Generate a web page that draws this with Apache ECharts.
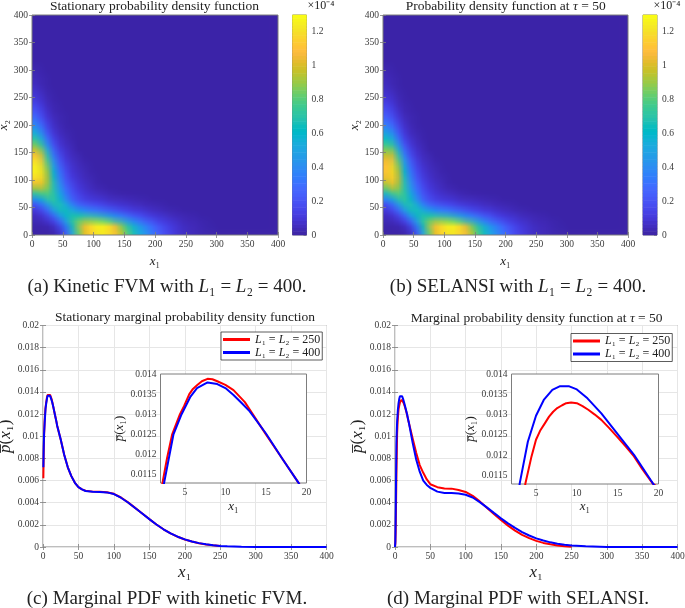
<!DOCTYPE html>
<html><head><meta charset="utf-8">
<style>
html,body{margin:0;padding:0;background:#fff;width:685px;height:608px;overflow:hidden}
#main{position:absolute;left:0;top:0;width:685px;height:608px;z-index:2}
.hm{position:absolute;width:40px;height:40px;transform-origin:0 0;z-index:1}
</style>
<script src="https://cdn.jsdelivr.net/npm/echarts@6/dist/echarts.min.js"></script>
</head><body>
<div id="hmA" class="hm" style="left:32px;top:15px;transform:scale(6.15,5.5)"></div>
<div id="hmB" class="hm" style="left:383px;top:15px;transform:scale(6.125,5.5)"></div>
<div id="main"></div>
<script>
// MATLAB parula colormap
const parula=[[.2422,.1504,.6603],[.2504,.165,.7076],[.2578,.1818,.7511],[.2647,.1978,.7952],[.2706,.2147,.8364],[.2751,.2342,.871],[.2783,.2559,.8991],[.2803,.2782,.9221],[.2813,.3006,.9414],[.281,.3228,.9579],[.2795,.3447,.9717],[.276,.3667,.9829],[.2699,.3892,.9906],[.2602,.4123,.9952],[.244,.4358,.9988],[.2206,.4603,.9973],[.1963,.4847,.9892],[.1834,.5074,.9798],[.1786,.5289,.9682],[.1764,.5499,.952],[.1687,.5703,.9359],[.154,.5902,.9218],[.146,.6091,.9079],[.138,.6276,.8973],[.1248,.6459,.8883],[.1113,.6635,.8763],[.0952,.6798,.8598],[.0689,.6948,.8394],[.0297,.7082,.8163],[.0036,.7203,.7917],[.0067,.7312,.766],[.0433,.7411,.7394],[.0964,.75,.712],[.1408,.7584,.6842],[.1717,.767,.6554],[.1938,.7758,.6251],[.2161,.7843,.5923],[.247,.7918,.5567],[.2906,.7973,.5188],[.3406,.8008,.4789],[.3909,.8029,.4354],[.4456,.8024,.3909],[.5044,.7993,.348],[.5616,.7942,.3045],[.6174,.7876,.2612],[.672,.7793,.2227],[.7242,.7698,.191],[.7738,.7598,.1646],[.8203,.7498,.1535],[.8634,.7406,.1596],[.9035,.733,.1774],[.9393,.7288,.21],[.9728,.7298,.2394],[.9956,.7434,.2371],[.997,.7659,.2199],[.9952,.7893,.2028],[.9892,.8136,.1885],[.9786,.8386,.1766],[.9676,.8639,.1643],[.961,.889,.1537],[.9597,.9135,.1423],[.9628,.9373,.1265],[.9691,.9606,.1064],[.9769,.9839,.0805]]
  .map(c=>`rgb(${c.map(v=>Math.round(v*255)).join(',')})`);

// Densities in units of 1e-6; rows y = 5,15,25,… (bottom up), columns x = 5,15,25,… Unlisted cells read as 0.
const densityA=[
[0,0,0,1,5,18,46,78,100,113,122,125,122,112,98,82,68,54,43,33,25,18,13,9,6,4,3,2,1,1],
[1,1,2,5,14,33,60,86,105,118,126,128,123,108,88,70,56,44,35,27,20,15,11,8,5,4,3,2,1,1],
[3,4,7,14,28,48,70,80,84,84,82,78,70,58,48,40,32,26,20,16,12,9,7,5,3,2,2,1,1],
[5,8,15,30,50,62,66,62,55,50,46,40,35,30,26,21,17,14,11,8,6,5,3,2,2,1,1],
[10,16,28,50,66,66,50,38,32,28,25,21,18,15,12,10,8,7,5,4,3,2,1,1],
[22,32,48,68,68,52,33,22,18,15,13,11,9,7,6,5,4,3,2,2,1,1],
[46,58,72,76,58,38,22,15,11,8,7,6,4,3,3,2,2,1,1],
[76,83,84,72,52,33,20,13,9,6,4,3,2,1],
[96,102,92,70,45,27,16,10,6,4,2,1],
[112,115,96,68,40,23,13,8,5,3,1],
[124,122,97,63,35,19,10,6,3,2,1],
[128,123,93,58,30,16,8,5,3,1],
[126,118,86,50,25,13,7,4,2,1],
[120,112,78,42,20,10,5,3,1],
[108,102,70,32,15,8,4,2],
[96,84,52,24,11,6,3],
[82,68,38,17,8,4,2],
[68,52,28,12,6,3,1],
[54,40,20,9,4,2,1],
[42,30,15,6,3,1],
[33,23,11,5,2,1],
[26,17,8,3,2,1],
[20,13,6,2,1],
[15,10,4,2,1],
[11,7,3,1],
[8,5,2,1],
[6,3,1],
[4,2,1],
[3,2,1],
[2,1],
[1,1]];
const densityB=[
[0,0,0,1,4,16,44,78,102,115,122,124,120,110,96,80,66,52,41,32,24,17,12,9,6,4,3,2,1,1],
[1,1,2,5,13,32,60,88,107,119,126,127,121,106,86,68,54,42,33,26,19,14,10,7,5,4,3,2,1,1],
[3,4,7,13,27,47,71,81,85,85,83,78,69,57,47,39,31,25,19,15,11,9,6,5,3,2,2,1,1],
[5,8,15,29,50,63,67,63,56,51,47,41,36,31,26,21,17,14,10,8,6,5,3,2,2,1,1],
[10,16,28,49,66,67,51,39,33,29,26,22,18,15,12,10,8,7,5,4,3,2,1,1],
[19,30,47,67,69,53,34,23,18,15,13,11,9,7,6,5,4,3,2,2,1,1],
[40,55,71,77,60,39,23,15,11,8,7,6,4,3,3,2,2,1,1],
[66,80,85,74,53,34,21,13,9,6,4,3,2,1],
[85,100,94,72,46,28,17,10,6,4,2,1],
[98,113,99,70,42,24,14,8,5,3,1],
[106,119,101,66,37,20,11,6,3,2,1],
[110,120,97,61,32,17,9,5,3,1],
[109,116,90,53,27,14,7,4,2,1],
[103,109,81,45,22,11,5,3,1],
[93,99,72,35,16,8,4,2],
[83,83,55,26,12,6,3],
[71,67,40,19,9,4,2],
[59,52,30,13,6,3,1],
[47,40,22,10,4,2,1],
[37,30,16,7,3,1],
[29,23,12,5,2,1],
[23,17,9,3,2,1],
[18,13,6,2,1],
[14,10,4,2,1],
[10,7,3,1],
[7,5,2,1],
[5,3,1],
[4,2,1],
[3,2,1],
[2,1],
[1,1]];

// Marginal PDFs
const xC250=[.5,1,1.5,2.25,2.8,3.44,4.4,4.9,5.55,6,6.5,7.1,7.8,8.4,9,10,11,12.4,15,17,19,20,25,30,35,40,45,50,55,60,70,80,90,100,110,120,130,140,150,160,170,180,190,200,210,220,230,240,250];
const yC250=[.0062,.0085,.01,.0113,.0119,.0125,.013,.0132,.0135,.01363,.01372,.01382,.01388,.01387,.01382,.01373,.0136,.0133,.0125,.0119,.0113,.01095,.0097,.0083,.0072,.0064,.0058,.0054,.0052,.00508,.005,.00499,.00495,.0048,.00447,.00403,.00353,.00303,.00252,.00203,.0016,.00123,.00092,.00068,.00049,.00034,.00023,.00015,.00009];
const xC400=[.5,1,1.5,2.45,3.6,4.6,5.7,6.5,7.8,9,10,11,12,13,15,17,19,20,25,30,35,40,45,50,55,60,70,80,90,100,110,120,130,140,150,160,170,180,190,200,210,220,230,240,250,260,280,300,350,400];
const yC400=[.0072,.009,.0102,.0113,.0125,.013,.01344,.01365,.01379,.01375,.01365,.01348,.01328,.01307,.01252,.0119,.0113,.01095,.0097,.0083,.0072,.0064,.0058,.0054,.0052,.00506,.00498,.00497,.00493,.00478,.00445,.00402,.00352,.00302,.00252,.00203,.0016,.00123,.00093,.00069,.0005,.00035,.00024,.00016,.0001,.00007,.00003,.00001,0,0];
const xD250=[0,.5,1,2,3,3.7,4.45,5,5.5,6.1,6.6,7.1,7.6,8.2,8.7,9.3,10,10.7,11.4,12.2,13,14,15,16,17,18,19.3,20,25,30,35,40,45,50,60,70,80,90,100,110,120,130,140,150,160,170,180,190,200,210,220,230,240,250];
const yD250=[0,.0003,.0015,.0065,.0102,.0113,.01197,.01238,.0126,.01279,.01295,.01307,.01316,.01323,.01328,.0133,.01328,.01321,.01312,.013,.01287,.01266,.01244,.01221,.01197,.01166,.0113,.0112,.0098,.0085,.0074,.0067,.0061,.00567,.0054,.00528,.00527,.00515,.00497,.00462,.00412,.00355,.00298,.00243,.00193,.00148,.0011,.0008,.00055,.00037,.00024,.00014,.00007,.00003];
const xD400=[0,.5,1,2,3,4,5,5.95,7,7.95,9,10,11.3,13,15,17,19,20,25,30,35,40,45,50,60,70,80,90,100,110,120,130,140,150,160,170,180,190,200,210,220,230,240,250,270,300,350,400];
const yD400=[0,.0005,.003,.0094,.0113,.01233,.01297,.01336,.01361,.0137,.0137,.01362,.0134,.01303,.01252,.01201,.0114,.0111,.0094,.0079,.0068,.006,.0056,.00534,.005,.00488,.00487,.00483,.00472,.00447,.00405,.00358,.00308,.00259,.00213,.00172,.00135,.00104,.00078,.00058,.00042,.0003,.0002,.00014,.00006,.00001,0,0];

// Tick labels
const mapTicks=[0,50,100,150,200,250,300,350,400];
const cbTicks=[0,.2,.4,.6,.8,1,1.2];
const pdfTicks=[0,.002,.004,.006,.008,.01,.012,.014,.016,.018,.02];
const insetXTicks=[5,10,15,20];
const insetYTicks=[.0115,.012,.0125,.013,.0135,.014];
const names=['L₁ = L₂ = 250','L₁ = L₂ = 400'];

const SERIF='"Liberation Serif",serif', INK='#3a3a3a', FRAME='#7d7d7d';
const zip=(xs,ys)=>xs.map((x,i)=>[x,ys[i]]);

function density(id,rows){
  // rows are pushed top-down: ECharts paints each cell a pixel over its lower neighbour
  const cells=[];
  for(let r=39;r>=0;r--)for(let c=0;c<40;c++)cells.push([c,r,(rows[r]&&rows[r][c])||0]);
  const idx=Array.from({length:40},(_,i)=>i);
  echarts.init(document.getElementById(id),null,{devicePixelRatio:1}).setOption({
    animation:false,
    grid:{left:0,right:0,top:0,bottom:0,outerBoundsMode:'none'},
    xAxis:{type:'category',data:idx,show:false},
    yAxis:{type:'category',data:idx,show:false},
    visualMap:{show:false,min:0,max:130,inRange:{color:parula}},
    series:[{type:'heatmap',data:cells,progressive:0,itemStyle:{borderWidth:0}}]
  });
}
density('hmA',densityA);
density('hmB',densityB);

const math=(size)=>({
  i:{fontFamily:SERIF,fontStyle:'italic',fontSize:size,color:'#222'},
  n:{fontFamily:SERIF,fontSize:size,color:'#222'}
});
const X1='{i|x}{n|₁}', X2='{i|x}{n|₂}', P='{i|p̅}{n|(}{i|x}{n|₁}{n|)}';

const grids=[],xAxes=[],yAxes=[];
function frame(g,xo,yo){
  const gi=grids.push({show:true,outerBoundsMode:'none',borderColor:FRAME,borderWidth:1,backgroundColor:g.bg||'transparent',left:g.l,top:g.t,width:g.w,height:g.h,z:g.z||0})-1;
  const fs=g.fs||9.5;
  const tick=(vals,len)=>({show:true,inside:true,length:len||3,lineStyle:{color:FRAME,width:.8},customValues:vals});
  const lab=(vals,show)=>({show:show,fontFamily:SERIF,fontSize:fs,color:INK,margin:g.m||4,customValues:vals,showMinLabel:true,showMaxLabel:true,hideOverlap:false});
  const split={show:!!g.grid,lineStyle:{color:'#e6e6e6',width:1}};
  const nm=(name,gap,size)=>name?{name:name,nameLocation:'middle',nameGap:gap,nameTextStyle:{rich:math(size)}}:{};
  const xi=xAxes.push(Object.assign({gridIndex:gi,type:'value',min:xo.min,max:xo.max,position:'bottom',axisLine:{show:false},axisTick:tick(xo.ticks),axisLabel:lab(xo.ticks,true),splitLine:Object.assign({},split,{customValues:xo.ticks})},nm(xo.name,xo.gap,xo.size)))-1;
  const yi=yAxes.push(Object.assign({gridIndex:gi,type:'value',min:yo.min,max:yo.max,position:'left',axisLine:{show:false},axisTick:tick(yo.ticks),axisLabel:lab(yo.ticks,true),splitLine:Object.assign({},split,{customValues:yo.ticks})},nm(yo.name,yo.gap,yo.size)))-1;
  // mirrored ticks on the top and right edges, as on a MATLAB box
  xAxes.push({gridIndex:gi,type:'value',min:xo.min,max:xo.max,position:'top',axisLine:{show:false},axisTick:tick(xo.ticks),axisLabel:{show:false},splitLine:{show:false}});
  yAxes.push({gridIndex:gi,type:'value',min:yo.min,max:yo.max,position:'right',axisLine:{show:false},axisTick:tick(yo.ticks),axisLabel:{show:false},splitLine:{show:false}});
  return {xi,yi};
}

// density panels: axes and frame sit over the smooth-scaled heatmap canvases
frame({l:32,t:15,w:246,h:220},{min:0,max:400,ticks:mapTicks,name:X1,gap:20,size:13},{min:0,max:400,ticks:mapTicks,name:X2,gap:19,size:13});
frame({l:383,t:15,w:245,h:220},{min:0,max:400,ticks:mapTicks,name:X1,gap:20,size:13},{min:0,max:400,ticks:mapTicks,name:X2,gap:22,size:13});

// colour bars
const levels=parula.map((_,i)=>i);
const series=[];
[[292.5],[643]].forEach(([l])=>{
  const gi=grids.push({show:true,outerBoundsMode:'none',borderColor:FRAME,borderWidth:1,left:l,top:15,width:14,height:220})-1;
  const xi=xAxes.push({gridIndex:gi,type:'category',data:[0],show:false})-1;
  const yi=yAxes.push({gridIndex:gi,type:'category',data:levels,show:false})-1;
  yAxes.push({gridIndex:gi,type:'value',min:0,max:1.296,position:'right',axisLine:{show:false},
    axisTick:{show:true,inside:true,length:3,lineStyle:{color:FRAME,width:.8},customValues:cbTicks},
    axisLabel:{show:true,fontFamily:SERIF,fontSize:9.5,color:INK,margin:5,customValues:cbTicks},splitLine:{show:false}});
  series.push({type:'heatmap',name:'colorbar',xAxisIndex:xi,yAxisIndex:yi,data:levels.slice().reverse().map(v=>[0,v,v]),progressive:0});
});

// marginal panels
const pc=frame({l:43,t:325.5,w:283.5,h:221.5,grid:true},{min:0,max:400,ticks:mapTicks,name:X1,gap:17,size:17},{min:0,max:.02,ticks:pdfTicks,name:P,gap:25,size:17});
const pd=frame({l:395,t:325.5,w:282.5,h:221.5,grid:true},{min:0,max:400,ticks:mapTicks,name:X1,gap:17,size:17},{min:0,max:.02,ticks:pdfTicks,name:P,gap:29,size:17});
const ic=frame({l:160.5,t:374,w:146,h:109,bg:'#fff',z:1},{min:2,max:20,ticks:insetXTicks,name:X1,gap:17,size:13,},{min:.01129,max:.014,ticks:insetYTicks,name:P,gap:31,size:13});
const id=frame({l:511.5,t:374,w:147,h:110,bg:'#fff',z:1},{min:2,max:20,ticks:insetXTicks,name:X1,gap:16,size:13},{min:.01129,max:.014,ticks:insetYTicks,name:P,gap:31,size:13});

function curves(ax,xa,ya,xb,yb){
  series.push({type:'line',name:names[0],xAxisIndex:ax.xi,yAxisIndex:ax.yi,data:zip(xa,ya),showSymbol:false,symbol:'none',lineStyle:{color:'#ff0000',width:2},itemStyle:{color:'#ff0000'},z:3});
  series.push({type:'line',name:names[1],xAxisIndex:ax.xi,yAxisIndex:ax.yi,data:zip(xb,yb),showSymbol:false,symbol:'none',lineStyle:{color:'#0000ff',width:2},itemStyle:{color:'#0000ff'},z:4});
}
curves(pc,xC250,yC250,xC400,yC400);
curves(ic,xC250,yC250,xC400,yC400);
curves(pd,xD250,yD250,xD400,yD400);
curves(id,xD250,yD250,xD400,yD400);

const legend=(l,t)=>({data:names,orient:'vertical',left:l,top:t,padding:[1,2,1,2],itemGap:0,icon:'rect',itemWidth:27,itemHeight:3,
  backgroundColor:'#fff',borderColor:'#333',borderWidth:.8,selectedMode:false,
  formatter:n=>{const m=n.split(' ');return `{i|L}{n|₁ = }{i|L}{n|₂ = ${m[4]}}`;},
  textStyle:{rich:math(12),lineHeight:13}});

const tt=(text,cx,y,size)=>({text:text,left:cx,top:y,textAlign:'center',textVerticalAlign:'middle',padding:0,
  textStyle:{fontFamily:SERIF,fontWeight:'normal',fontSize:size,color:'#222',rich:math(size)}});

echarts.init(document.getElementById('main'),null,{devicePixelRatio:1}).setOption({
  animation:false,backgroundColor:'transparent',
  title:[
    tt('Stationary probability density function',154.5,6,13.5),
    tt('Probability density function at {i|τ} = 50',505.7,6,13.5),
    tt('Stationary marginal probability density function',185,317.5,13.5),
    tt('Marginal probability density function at {i|τ} = 50',536.7,318,13.5),
    tt('×10⁻⁴',321,6,12),
    tt('×10⁻⁴',667,6,12),
    tt('(a) Kinetic FVM with {i|L}₁ = {i|L}₂ = 400.',167,287,19),
    tt('(b) SELANSI with {i|L}₁ = {i|L}₂ = 400.',518,287,19),
    tt('(c) Marginal PDF with kinetic FVM.',167,599,19),
    tt('(d) Marginal PDF with SELANSI.',518,599,19)
  ],
  grid:grids,xAxis:xAxes,yAxis:yAxes,
  visualMap:{show:false,seriesIndex:[0,1],min:0,max:63,inRange:{color:parula}},
  legend:[legend(221,332),legend(571,333.5)],
  series:series
});
</script>
</body></html>
